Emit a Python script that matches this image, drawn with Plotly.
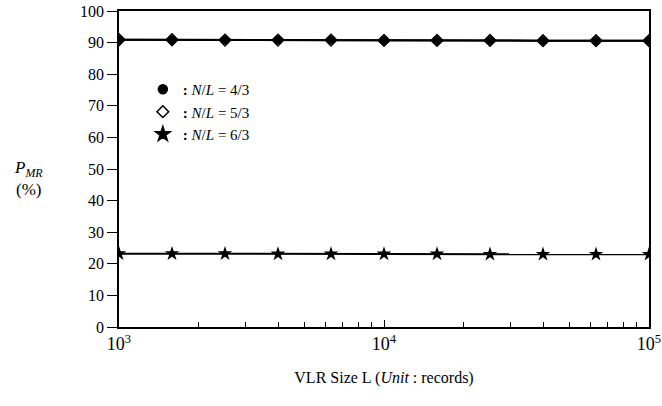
import plotly.graph_objects as go

# Data
vlr_size = [1000, 1585, 2512, 3981, 6310, 10000, 15849, 25119, 39811, 63096, 100000]
p_mr_4_3 = [90.9, 90.9, 90.8, 90.8, 90.8, 90.7, 90.7, 90.7, 90.6, 90.6, 90.6]
p_mr_5_3 = [90.9, 90.9, 90.8, 90.8, 90.8, 90.7, 90.7, 90.7, 90.6, 90.6, 90.6]
p_mr_6_3 = [23.2, 23.2, 23.2, 23.1, 23.1, 23.1, 23.1, 23.0, 23.0, 23.0, 23.0]
series_names = ["<b>:</b> <i>N</i>/<i>L</i> = 4/3",
                "<b>:</b> <i>N</i>/<i>L</i> = 5/3",
                "<b>:</b> <i>N</i>/<i>L</i> = 6/3"]
x_tickvals = [1000, 10000, 100000]
x_ticktext = ["10<sup>3</sup>", "10<sup>4</sup>", "10<sup>5</sup>"]
y_ticks = list(range(0, 101, 10))

FONT = "Liberation Serif"

fig = go.Figure()

# Plot lines (diamond under circles)
fig.add_trace(go.Scatter(x=vlr_size, y=p_mr_5_3, mode="lines+markers", showlegend=False,
                         line=dict(color="black", width=2),
                         marker=dict(symbol="diamond-open", size=9, color="black", line=dict(width=1.5))))
fig.add_trace(go.Scatter(x=vlr_size, y=p_mr_4_3, mode="lines+markers", showlegend=False,
                         line=dict(color="black", width=2),
                         marker=dict(symbol="circle", size=9, color="black")))
fig.add_trace(go.Scatter(x=vlr_size, y=p_mr_6_3, mode="lines+markers", showlegend=False,
                         line=dict(color="black", width=2),
                         marker=dict(symbol="star", size=11, color="black")))

# Legend-only entries (marker only)
for sym, name, sz in [("circle", series_names[0], 9),
                      ("diamond-open", series_names[1], 9),
                      ("star", series_names[2], 11)]:
    fig.add_trace(go.Scatter(x=[None], y=[None], mode="markers", name=name,
                             marker=dict(symbol=sym, size=sz, color="black", line=dict(width=1.5, color="black"))))

fig.update_layout(
    template="none",
    width=662, height=406,
    margin=dict(l=119, r=13, t=11, b=79),
    paper_bgcolor="white", plot_bgcolor="white",
    font=dict(family=FONT, size=15, color="black"),
    showlegend=True,
    legend=dict(x=0.045, y=0.804, xanchor="left", yanchor="top",
                bgcolor="rgba(0,0,0,0)", font=dict(family=FONT, size=15),
                itemwidth=30, tracegroupgap=0),
)

fig.update_xaxes(
    type="log", range=[3, 5], tickvals=x_tickvals, ticktext=x_ticktext, automargin=False,
    showgrid=False, zeroline=False,
    showline=True, linecolor="black", linewidth=1.5, mirror=True,
    ticks="inside", ticklen=7, tickwidth=1.2, tickcolor="black",
    minor=dict(ticks="inside", ticklen=5, tickwidth=1, tickcolor="black", dtick="D1", showgrid=False),
    tickfont=dict(family=FONT, size=18),
    title=dict(text="VLR Size L (<i>Unit</i> : records)", font=dict(family=FONT, size=16), standoff=18),
)
fig.update_yaxes(
    range=[0, 100], tickvals=y_ticks, automargin=False,
    showgrid=False, zeroline=False,
    showline=True, linecolor="black", linewidth=1.5, mirror=True,
    ticks="outside", ticklen=10, tickwidth=1.2, tickcolor="black",
    tickfont=dict(family=FONT, size=16),
)

fig.add_annotation(text="<i>P</i><sub><i>MR</i></sub><br>(%)", xref="paper", yref="paper",
                   x=-0.17, y=0.47, xanchor="center", yanchor="middle", showarrow=False,
                   font=dict(family=FONT, size=17), align="center")

fig.write_html("out.html", config={"displayModeBar": False},
               post_script="document.body.style.margin='0';document.body.style.overflow='hidden';")
